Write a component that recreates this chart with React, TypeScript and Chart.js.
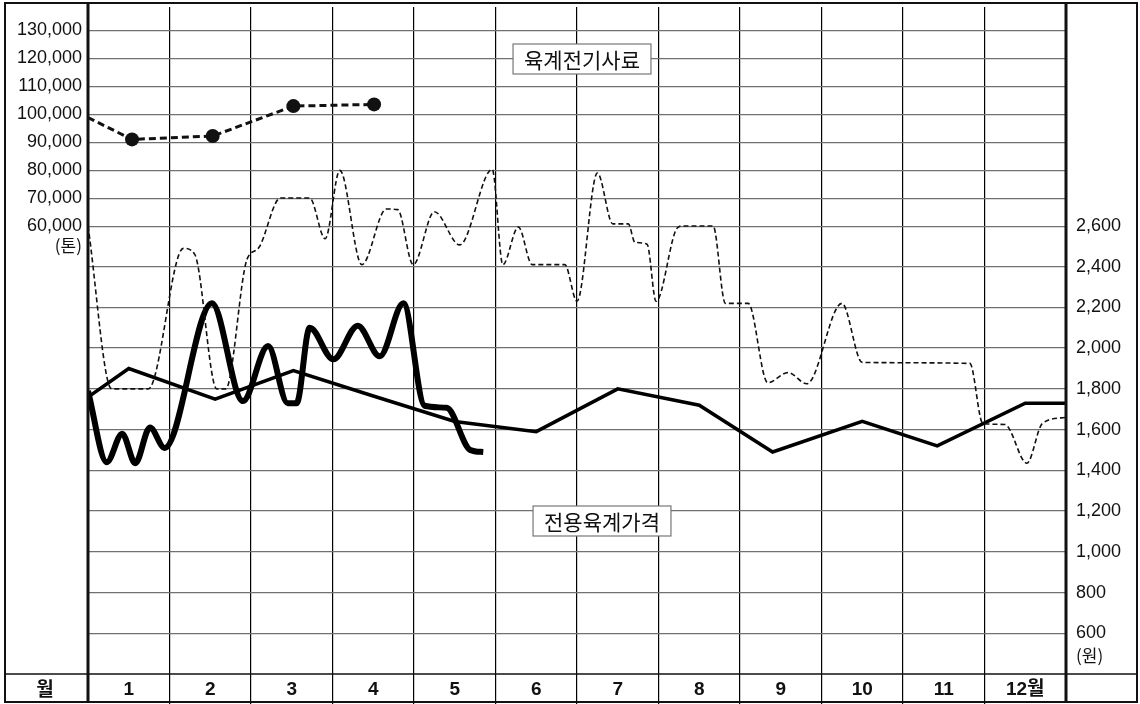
import React, { useEffect, useRef } from 'react';
import { Chart, registerables } from 'chart.js';

Chart.register(...registerables);

// month columns, labels are drawn at the middle of each column
const months = ['1', '2', '3', '4', '5', '6', '7', '8', '9', '10', '11', '12월'];
const monthTicks = [0, 0.5, 1, 1.5, 2, 2.5, 3, 3.5, 4, 4.5, 5, 5.5, 6, 6.5, 7, 7.5, 8, 8.5, 9, 9.5, 10, 10.5, 11, 11.5, 12];

// left axis (톤), right axis (원)
const tonTicks = [60000, 70000, 80000, 90000, 100000, 110000, 120000, 130000];
const wonTicks = [600, 800, 1000, 1200, 1400, 1600, 1800, 2000, 2200, 2400, 2600];

// 육계전기사료 (톤) - dashed line with dots
const feedX = [0, 0.54, 1.53, 2.52, 3.51];
const feedTons = [98800, 91000, 92200, 102900, 103500];

// thin dashed price line (원)
const thinX = [
  0, 0.29, 0.74, 1.17, 1.31, 1.58, 1.69, 1.95, 2.09, 2.36, 2.72, 2.91, 3.09, 3.36, 3.66, 3.8,
  3.99, 4.25, 4.56, 4.96, 5.09, 5.28, 5.45, 5.85, 6.0, 6.25, 6.44, 6.63, 6.71, 6.86, 6.97,
  7.23, 7.3, 7.67, 7.82, 8.1, 8.34, 8.59, 8.82, 9.25, 9.5, 10.82, 10.98, 11.25, 11.52, 11.71, 12,
];
const thinPrice = [
  2600, 1800, 1800, 2490, 2460, 1800, 1800, 2435, 2490, 2737, 2737, 2537, 2873, 2410, 2683, 2680,
  2410, 2670, 2507, 2878, 2410, 2595, 2410, 2410, 2230, 2860, 2610, 2610, 2520, 2510, 2230,
  2590, 2600, 2600, 2220, 2220, 1830, 1880, 1825, 2220, 1930, 1925, 1630, 1625, 1435, 1630, 1660,
];

// thick wavy price line (원)
const waveX = [
  0, 0.23, 0.42, 0.58, 0.76, 0.94, 1.52, 1.9, 2.21, 2.45, 2.56, 2.72, 3.01, 3.31, 3.58, 3.87,
  4.13, 4.4, 4.69, 4.85,
];
const wavePrice = [
  1790, 1440, 1580, 1435, 1610, 1510, 2220, 1740, 2010, 1730, 1730, 2100, 1945, 2110, 1960, 2220,
  1717, 1707, 1500, 1490,
];

// 전용육계가격 (원) - straight polyline
const broilerX = [0, 0.5, 1.56, 2.52, 3.5, 4.5, 5.5, 6.5, 7.5, 8.4, 9.5, 10.42, 11.5, 12];
const broilerPrice = [1760, 1900, 1750, 1890, 1765, 1640, 1590, 1800, 1720, 1490, 1640, 1520, 1730, 1730];

const toPoints = (xs: number[], ys: number[]) => xs.map((x, i) => ({ x, y: ys[i] }));

const LATIN = '"Liberation Sans", "Noto Sans CJK KR", sans-serif';
const KOREAN = '"Noto Sans CJK KR", sans-serif';

// scales get a fixed size and no label overflow padding, so the plot box is exact
const fixSize = (w: number | null, h: number | null) => (scale: any) => {
  if (w !== null) scale.width = w;
  if (h !== null) scale.height = h;
  scale.paddingTop = 0;
  scale.paddingBottom = 0;
  scale.paddingLeft = 0;
  scale.paddingRight = 0;
};

const framePlugin = {
  id: 'frame',
  afterDraw(chart: any) {
    const { ctx, chartArea: a } = chart;
    const line = (x1: number, y1: number, x2: number, y2: number) => {
      ctx.beginPath();
      ctx.moveTo(x1, y1);
      ctx.lineTo(x2, y2);
      ctx.stroke();
    };
    ctx.save();
    ctx.strokeStyle = '#111';
    ctx.lineWidth = 2;
    ctx.strokeRect(5, 3, 1132, 699);
    ctx.lineWidth = 1.5;
    line(5, a.bottom, 1137, a.bottom);
    ctx.lineWidth = 3;
    line(a.left, 3, a.left, 702);
    line(a.right, 3, a.right, 702);

    ctx.fillStyle = '#111';
    ctx.textBaseline = 'middle';
    ctx.font = `bold 19px ${KOREAN}`;
    ctx.textAlign = 'center';
    ctx.fillText('월', 45, 689);

    ctx.font = `17px ${KOREAN}`;
    ctx.textAlign = 'right';
    ctx.fillText('(톤)', 82, 246);
    ctx.textAlign = 'left';
    ctx.fillText('(원)', 1076, 656);

    // label boxes
    const box = (text: string, cx: number, cy: number) => {
      ctx.font = `21px ${KOREAN}`;
      const w = ctx.measureText(text).width + 22;
      const h = 30;
      ctx.fillStyle = '#fff';
      ctx.fillRect(cx - w / 2, cy - h / 2, w, h);
      ctx.strokeStyle = '#777';
      ctx.lineWidth = 1.2;
      ctx.strokeRect(cx - w / 2, cy - h / 2, w, h);
      ctx.fillStyle = '#111';
      ctx.textAlign = 'center';
      ctx.fillText(text, cx, cy + 1);
    };
    box('육계전기사료', 582, 59);
    box('전용육계가격', 602, 521);
    ctx.restore();
  },
};

const App: React.FC = () => {
  const canvasRef = useRef<HTMLCanvasElement>(null);
  const chartRef = useRef<Chart | null>(null);

  useEffect(() => {
    if (!canvasRef.current) return;
    if (chartRef.current) chartRef.current.destroy();

    chartRef.current = new Chart(canvasRef.current, {
      type: 'line',
      data: {
        datasets: [
          {
            label: '육계전기사료',
            data: toPoints(feedX, feedTons),
            yAxisID: 'yL',
            borderColor: '#111',
            backgroundColor: '#111',
            borderWidth: 3,
            borderDash: [7, 4],
            pointRadius: [0, 7, 7, 7, 7],
            pointBorderWidth: 0,
            tension: 0,
          },
          {
            label: 'thin',
            data: toPoints(thinX, thinPrice),
            yAxisID: 'yR',
            borderColor: '#111',
            borderWidth: 1.6,
            borderDash: [5, 3],
            pointRadius: 0,
            tension: 0.4,
            cubicInterpolationMode: 'monotone',
          },
          {
            label: 'wave',
            data: toPoints(waveX, wavePrice),
            yAxisID: 'yR',
            borderColor: '#000',
            borderWidth: 6,
            borderJoinStyle: 'round',
            pointRadius: 0,
            tension: 0.4,
            cubicInterpolationMode: 'monotone',
          },
          {
            label: '전용육계가격',
            data: toPoints(broilerX, broilerPrice),
            yAxisID: 'yR',
            borderColor: '#000',
            borderWidth: 3.5,
            pointRadius: 0,
            tension: 0,
          },
        ],
      },
      options: {
        animation: false,
        responsive: true,
        maintainAspectRatio: false,
        layout: { padding: { top: 3, left: 0, right: 0, bottom: 0 } },
        plugins: {
          legend: { display: false },
          tooltip: { enabled: false },
        },
        scales: {
          x: {
            type: 'linear',
            min: 0,
            max: 12,
            afterBuildTicks: (scale: any) => {
              scale.ticks = monthTicks.map((value) => ({ value }));
            },
            afterFit: fixSize(null, 30),
            border: { display: false },
            grid: {
              color: (ctx: any) => {
                const v = ctx.tick ? ctx.tick.value : 0;
                return Number.isInteger(v) && v !== 0 && v !== 12 ? '#000' : 'rgba(0,0,0,0)';
              },
              lineWidth: 1.2,
              drawTicks: true,
              tickLength: 30,
            },
            ticks: {
              autoSkip: false,
              maxRotation: 0,
              padding: -26,
              color: '#111',
              font: { family: LATIN, size: 19, weight: 'bold' },
              callback: (value: any) => (Number.isInteger(value) ? '' : months[Math.floor(value)]),
            },
          },
          yL: {
            type: 'linear',
            position: 'left',
            min: -100000,
            max: 138300,
            afterBuildTicks: (scale: any) => {
              scale.ticks = tonTicks.map((value) => ({ value }));
            },
            afterFit: fixSize(88, null),
            border: { display: false },
            grid: { color: '#707070', lineWidth: 1.3, drawTicks: false },
            ticks: {
              padding: 6,
              color: '#111',
              font: { family: LATIN, size: 18 },
              callback: (value: any) => Number(value).toLocaleString('en-US'),
            },
          },
          yR: {
            type: 'linear',
            position: 'right',
            min: 400,
            max: 3675,
            afterBuildTicks: (scale: any) => {
              scale.ticks = wonTicks.map((value) => ({ value }));
            },
            afterFit: fixSize(74, null),
            border: { display: false },
            grid: {
              // the 2,600 line is shared with the 60,000 line of the left axis
              color: (ctx: any) => (ctx.tick && ctx.tick.value === 2600 ? 'rgba(0,0,0,0)' : '#707070'),
              lineWidth: 1.3,
              drawTicks: false,
            },
            ticks: {
              padding: 10,
              color: '#111',
              font: { family: LATIN, size: 18 },
              callback: (value: any) => Number(value).toLocaleString('en-US'),
            },
          },
        },
      },
      plugins: [framePlugin],
    } as any);

    return () => {
      if (chartRef.current) {
        chartRef.current.destroy();
        chartRef.current = null;
      }
    };
  }, []);

  return (
    <div style={{ position: 'fixed', left: 0, top: 0, width: 1140, height: 704, background: '#fff' }}>
      <canvas ref={canvasRef} />
    </div>
  );
};

export default App;
